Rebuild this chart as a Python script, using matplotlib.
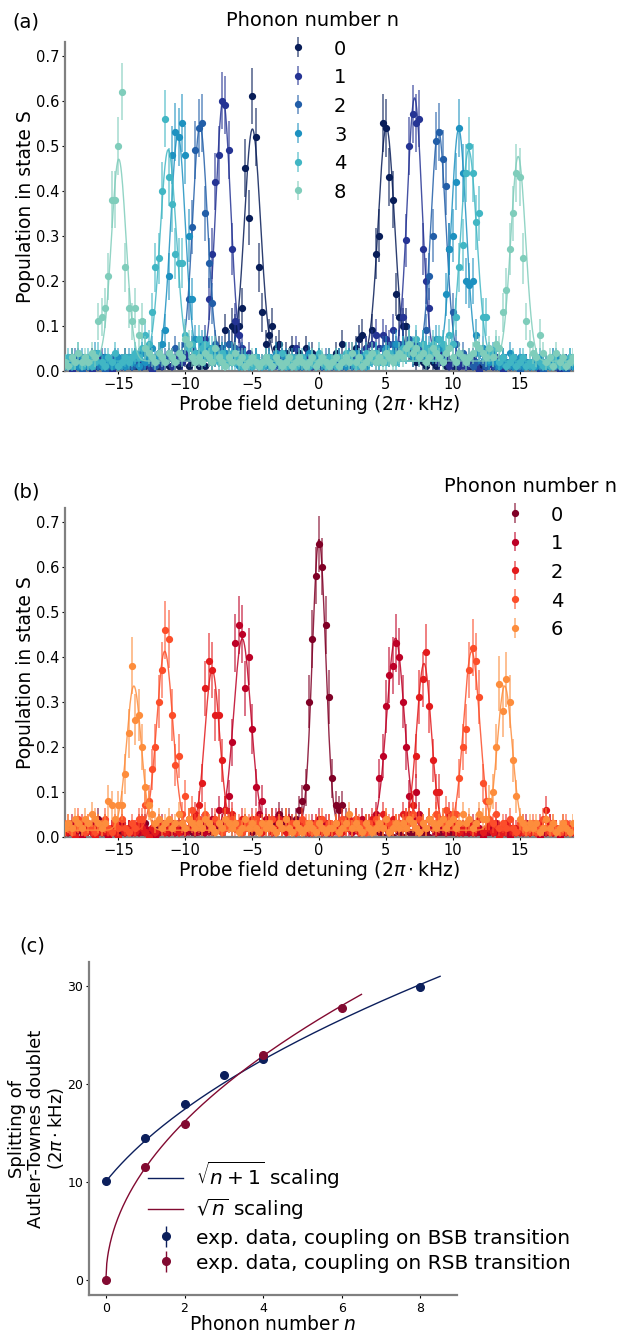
"""Autler-Townes splitting vs phonon number: (a) BSB coupling scans,
(b) RSB coupling scans, (c) extracted splitting with sqrt scaling."""
import numpy as np
import matplotlib
matplotlib.use("Agg")
import matplotlib.pyplot as plt
from matplotlib.colors import to_rgba

plt.rcParams.update({
    "font.family": "DejaVu Sans", "font.size": 10,
    "mathtext.fontset": "dejavusans",
    "axes.spines.top": False, "axes.spines.right": False,
})

# scan grid of the probe detuning (2pi kHz)
DET_START, DET_STOP, DET_STEP = -19.0, 19.0, 0.25
N_SHOTS = 60  # shots per point -> projection-noise error bars

# ---------- panel (a): coupling on BSB, population in S (%) ----------
a_labels = ["0", "1", "2", "3", "4", "8"]
a_colors = ["#081d58", "#253494", "#225ea8", "#1d91c0", "#41b6c4", "#7fcdbb"]
a_n0 = [2, 1, 3, 1, 2, 0, 1, 2, 3, 1, 0, 2, 1, 2, 1, 0, 2, 1, 3, 1,
        2, 1, 0, 2, 1, 3, 1, 2, 0, 1, 2, 1, 3, 2, 1, 2, 3, 1, 2, 4,
        1, 2, 1, 3, 2, 3, 5, 4, 9, 6, 10, 9, 10, 14, 45, 34, 61, 52, 23, 13,
        6, 8, 10, 5, 6, 3, 4, 2, 5, 3, 4, 2, 5, 3, 4, 2, 3, 1, 2, 3,
        2, 4, 3, 6, 2, 3, 4, 5, 7, 8, 5, 4, 9, 26, 30, 55, 54, 43, 38, 17,
        12, 10, 10, 5, 3, 2, 4, 2, 1, 3, 2, 1, 2, 3, 1, 2, 1, 0, 1, 2,
        1, 0, 2, 1, 1, 0, 1, 2, 0, 1, 1, 0, 0, 1, 0, 1, 2, 0, 1, 0,
        1, 0, 1, 2, 1, 0, 1, 2, 1, 0, 2, 1, 1]
a_n1 = [1, 2, 0, 1, 3, 1, 2, 1, 0, 2, 1, 3, 2, 1, 0, 1, 2, 1, 1, 2,
        1, 3, 2, 1, 2, 1, 0, 2, 3, 1, 2, 3, 1, 2, 3, 2, 4, 3, 5, 4,
        3, 5, 7, 16, 26, 42, 48, 60, 59, 49, 27, 11, 8, 5, 3, 4, 2, 3, 1, 2,
        2, 3, 1, 2, 4, 2, 1, 3, 2, 5, 2, 1, 3, 2, 1, 2, 3, 1, 2, 1,
        2, 1, 3, 2, 1, 4, 2, 3, 4, 2, 5, 3, 6, 8, 5, 8, 7, 6, 9, 4,
        6, 12, 29, 50, 57, 55, 56, 27, 20, 14, 5, 3, 2, 4, 3, 1, 2, 3, 1, 2,
        1, 2, 3, 1, 0, 2, 1, 2, 1, 3, 1, 0, 2, 1, 2, 1, 0, 1, 2, 1,
        2, 1, 0, 1, 2, 1, 2, 1, 0, 1, 2, 1, 2]
a_n2 = [2, 1, 2, 3, 1, 0, 2, 1, 3, 2, 1, 2, 0, 1, 2, 3, 1, 2, 1, 2,
        1, 2, 3, 1, 2, 2, 3, 1, 4, 2, 3, 4, 3, 5, 4, 4, 6, 16, 32, 49,
        54, 55, 35, 24, 15, 6, 3, 5, 4, 6, 3, 5, 2, 4, 3, 2, 1, 3, 2, 1,
        2, 3, 1, 2, 1, 3, 2, 1, 2, 3, 1, 2, 1, 2, 3, 1, 2, 1, 3, 2,
        1, 2, 3, 1, 2, 2, 1, 3, 2, 1, 2, 3, 4, 2, 3, 5, 4, 3, 6, 5,
        4, 6, 5, 7, 4, 6, 3, 5, 9, 21, 30, 51, 53, 47, 41, 27, 13, 6, 3, 4,
        2, 3, 1, 2, 4, 2, 1, 3, 2, 1, 2, 3, 1, 2, 1, 2, 0, 1, 2, 1,
        1, 2, 1, 0, 2, 1, 3, 1, 2, 1, 0, 2, 1]
a_n3 = [1, 2, 3, 2, 1, 3, 2, 1, 2, 4, 2, 1, 3, 2, 1, 2, 3, 2, 1, 3,
        2, 3, 1, 4, 2, 3, 5, 3, 4, 6, 9, 21, 48, 53, 52, 55, 48, 30, 16, 7,
        4, 6, 3, 5, 2, 4, 3, 2, 4, 3, 2, 3, 1, 2, 3, 1, 2, 3, 1, 2,
        3, 1, 2, 4, 2, 1, 3, 2, 1, 2, 3, 1, 2, 4, 2, 1, 3, 2, 1, 2,
        2, 3, 1, 2, 1, 3, 2, 4, 2, 3, 1, 2, 3, 4, 2, 3, 5, 3, 4, 6,
        3, 5, 4, 6, 3, 5, 4, 6, 3, 5, 4, 7, 5, 5, 17, 27, 30, 42, 54, 44,
        20, 19, 20, 8, 4, 5, 3, 2, 4, 2, 1, 3, 2, 4, 1, 2, 3, 1, 2, 1,
        2, 1, 3, 2, 1, 2, 1, 3, 2, 1, 2, 3, 1]
a_n4 = [2, 3, 1, 2, 4, 1, 2, 3, 1, 2, 4, 2, 1, 3, 2, 4, 1, 2, 3, 2,
        3, 4, 3, 5, 8, 6, 13, 23, 25, 40, 56, 43, 37, 26, 24, 24, 8, 5, 6, 4,
        7, 5, 6, 4, 5, 3, 2, 4, 3, 2, 4, 2, 3, 1, 3, 2, 1, 3, 2, 1,
        2, 3, 1, 3, 2, 4, 1, 2, 3, 1, 2, 3, 2, 1, 3, 2, 4, 2, 1, 3,
        2, 1, 3, 2, 4, 3, 2, 1, 3, 2, 4, 2, 3, 4, 2, 3, 2, 4, 3, 2,
        3, 5, 4, 6, 5, 7, 4, 6, 5, 4, 6, 5, 7, 6, 5, 8, 6, 12, 23, 28,
        44, 50, 44, 33, 35, 12, 12, 4, 3, 5, 2, 3, 1, 2, 3, 1, 2, 3, 1, 2,
        1, 3, 2, 1, 2, 1, 3, 2, 1, 2, 1, 3, 2]
a_n8 = [2, 1, 3, 2, 4, 2, 3, 2, 4, 3, 11, 12, 14, 21, 38, 38, 50, 62, 23, 14,
        11, 14, 8, 11, 5, 4, 3, 2, 4, 3, 2, 4, 3, 2, 4, 3, 7, 6, 3, 2,
        3, 2, 4, 3, 2, 5, 3, 2, 1, 3, 2, 4, 2, 3, 1, 2, 3, 2, 1, 2,
        3, 2, 1, 3, 2, 1, 2, 3, 1, 2, 3, 2, 1, 2, 3, 1, 2, 3, 2, 1,
        2, 3, 1, 2, 3, 2, 4, 2, 3, 1, 2, 3, 4, 2, 3, 2, 4, 3, 2, 3,
        4, 3, 5, 6, 4, 5, 3, 4, 2, 3, 5, 4, 3, 2, 4, 5, 3, 2, 4, 3,
        2, 3, 4, 6, 5, 4, 3, 5, 3, 6, 5, 13, 18, 27, 35, 44, 43, 25, 11, 6,
        4, 3, 8, 4, 2, 3, 1, 4, 2, 3, 1, 2, 3]
# double-Gaussian fit parameters (left/right centre, amplitude, width)
a_left_c = [-4.98, -7.17, -8.90, -10.55, -11.28, -14.98]
a_right_c = [5.04, 7.15, 8.93, 10.45, 11.20, 14.90]
a_left_amp = [0.515, 0.580, 0.522, 0.502, 0.469, 0.448]
a_right_amp = [0.519, 0.584, 0.514, 0.515, 0.468, 0.454]
a_sigma = [0.60, 0.55, 0.55, 0.55, 0.60, 0.55]
a_base = 0.022

# ---------- panel (b): coupling on RSB, population in S (%) ----------
b_labels = ["0", "1", "2", "4", "6"]
b_colors = ["#800026", "#bd0026", "#e31a1c", "#fc4e2a", "#fd8d3c"]
b_n0 = [1, 2, 0, 1, 2, 1, 0, 2, 1, 0, 4, 1, 2, 0, 1, 2, 1, 0, 1, 2,
        1, 0, 2, 1, 3, 1, 0, 2, 1, 2, 1, 0, 2, 1, 3, 2, 1, 2, 1, 0,
        2, 1, 3, 2, 1, 2, 3, 1, 2, 4, 2, 3, 2, 1, 3, 2, 1, 2, 3, 2,
        3, 2, 4, 3, 5, 4, 3, 4, 3, 4, 6, 8, 11, 30, 44, 58, 65, 60, 47, 31,
        13, 7, 6, 7, 4, 3, 2, 4, 2, 1, 3, 2, 1, 2, 1, 0, 2, 1, 0, 2,
        1, 0, 2, 1, 0, 1, 2, 0, 1, 0, 2, 1, 0, 1, 2, 1, 0, 1, 0, 2,
        1, 0, 1, 2, 0, 1, 0, 1, 2, 1, 0, 1, 0, 2, 1, 0, 1, 2, 1, 0,
        1, 2, 0, 1, 0, 1, 2, 1, 0, 1, 2, 0, 1]
b_n1 = [2, 1, 3, 1, 2, 0, 1, 2, 1, 3, 1, 2, 1, 0, 2, 1, 2, 3, 1, 2,
        1, 2, 1, 3, 2, 1, 2, 0, 1, 3, 2, 1, 2, 1, 3, 2, 1, 2, 3, 1,
        2, 3, 1, 2, 4, 3, 6, 3, 6, 9, 21, 43, 47, 45, 33, 40, 24, 11, 5, 8,
        4, 3, 2, 4, 3, 2, 4, 3, 2, 1, 2, 3, 2, 1, 3, 2, 4, 2, 3, 1,
        2, 3, 1, 2, 3, 2, 1, 3, 2, 4, 2, 3, 3, 5, 13, 18, 29, 36, 38, 43,
        40, 30, 20, 9, 4, 10, 5, 3, 2, 4, 2, 1, 3, 2, 1, 2, 3, 1, 2, 1,
        2, 1, 3, 1, 2, 0, 1, 2, 1, 3, 1, 2, 1, 0, 2, 1, 2, 1, 3, 1,
        2, 1, 0, 2, 1, 3, 1, 2, 0, 1, 2, 1, 1]
b_n2 = [1, 2, 1, 0, 2, 3, 1, 2, 1, 0, 2, 1, 3, 1, 2, 1, 0, 2, 1, 2,
        2, 1, 3, 2, 1, 0, 2, 1, 3, 2, 1, 2, 3, 2, 1, 3, 2, 4, 4, 5,
        7, 12, 33, 39, 37, 27, 27, 17, 6, 4, 5, 3, 2, 4, 3, 2, 4, 3, 2, 1,
        2, 3, 1, 2, 4, 2, 1, 3, 2, 1, 2, 3, 1, 2, 1, 3, 2, 1, 2, 3,
        1, 2, 3, 1, 2, 4, 2, 3, 1, 2, 3, 2, 4, 3, 2, 5, 3, 2, 4, 3,
        3, 5, 4, 5, 7, 18, 31, 35, 41, 29, 17, 10, 10, 4, 3, 5, 2, 3, 1, 2,
        2, 3, 1, 2, 4, 1, 2, 3, 1, 2, 0, 1, 3, 2, 1, 2, 1, 3, 2, 1,
        2, 1, 3, 2, 6, 3, 1, 2, 1, 3, 1, 2, 1]
b_n4 = [2, 3, 1, 2, 4, 2, 1, 3, 2, 1, 3, 2, 4, 2, 1, 3, 2, 4, 2, 1,
        3, 2, 4, 4, 7, 8, 15, 20, 30, 37, 46, 44, 27, 16, 18, 5, 9, 4, 6, 3,
        4, 2, 5, 3, 2, 4, 3, 1, 2, 3, 4, 2, 3, 1, 2, 3, 2, 4, 3, 2,
        3, 2, 4, 1, 3, 2, 4, 2, 3, 1, 2, 4, 3, 2, 1, 3, 2, 4, 2, 3,
        2, 3, 1, 4, 2, 3, 2, 4, 3, 2, 1, 3, 2, 4, 3, 2, 4, 3, 2, 3,
        3, 2, 4, 3, 5, 2, 4, 3, 2, 4, 3, 5, 4, 3, 6, 4, 5, 5, 13, 20,
        24, 37, 42, 39, 31, 12, 8, 4, 3, 5, 2, 3, 2, 4, 2, 1, 3, 2, 1, 2,
        3, 1, 2, 4, 2, 1, 3, 2, 1, 2, 3, 1, 2]
b_n6 = [2, 3, 2, 4, 3, 2, 4, 3, 5, 4, 3, 2, 3, 8, 7, 4, 7, 7, 14, 23,
        38, 26, 27, 20, 11, 7, 5, 3, 4, 2, 3, 4, 2, 3, 5, 3, 2, 4, 3, 2,
        3, 2, 4, 3, 2, 1, 3, 2, 4, 3, 2, 3, 1, 2, 4, 2, 3, 2, 1, 3,
        2, 3, 2, 1, 3, 2, 4, 2, 1, 3, 2, 1, 2, 3, 2, 1, 3, 2, 1, 2,
        2, 3, 1, 2, 3, 5, 2, 3, 2, 1, 3, 2, 1, 2, 3, 2, 4, 1, 2, 3,
        2, 3, 2, 4, 3, 2, 1, 3, 2, 4, 3, 2, 3, 4, 2, 3, 4, 2, 3, 5,
        3, 4, 2, 3, 5, 4, 4, 8, 10, 20, 34, 28, 35, 30, 17, 9, 4, 3, 2, 3,
        2, 3, 1, 2, 4, 2, 3, 1, 2, 3, 2, 1, 3]
b_left_c = [0.0, -5.74, -7.99, -11.54, -13.85]
b_right_c = [0.0, 5.72, 7.85, 11.42, 13.89]
b_left_amp = [0.645, 0.425, 0.355, 0.397, 0.320]
b_right_amp = [0.0, 0.426, 0.370, 0.397, 0.320]
b_sigma = [0.50, 0.65, 0.55, 0.60, 0.55]
b_base = 0.015

# ---------- panel (c): Autler-Townes splitting (2pi kHz) ----------
bsb_n = [0, 1, 2, 3, 4, 8]
bsb_split = [10.1, 14.5, 18.0, 21.0, 22.6, 29.9]
bsb_err = [0.4, 0.4, 0.4, 0.4, 0.4, 0.4]
rsb_n = [0, 1, 2, 4, 6]
rsb_split = [0.0, 11.5, 15.9, 23.0, 27.8]
rsb_err = [0.4, 0.4, 0.4, 0.4, 0.4]
bsb_coef, rsb_coef = 10.07, 11.45
bsb_nmax, rsb_nmax = 8.5, 6.5
c_navy, c_red = "#0c1f5c", "#820a31"


def style_axes(ax, size=10.5):
    for s in ("left", "bottom"):
        ax.spines[s].set_color("#808080")
        ax.spines[s].set_linewidth(1.6)
    ax.tick_params(labelsize=size, length=2, width=0.8, pad=2)


def scan_panel(ax, labels, colors, pops, lc, rc, la, ra, sig, base):
    det = np.arange(DET_START, DET_STOP + DET_STEP / 2, DET_STEP)
    xf = np.linspace(DET_START, DET_STOP, 1500)
    for k, (lab, col, pop) in enumerate(zip(labels, colors, pops)):
        p = np.array(pop) / 100.0
        err = np.maximum(np.sqrt(p * (1 - p) / N_SHOTS), 0.012)
        ax.errorbar(det, p, yerr=err, fmt="o", ms=4.2, color=col,
                    ecolor=to_rgba(col, 0.6), elinewidth=1.3, capsize=0,
                    label=lab, zorder=2 + k)
        fit = (base + la[k] * np.exp(-(xf - lc[k]) ** 2 / (2 * sig[k] ** 2))
               + ra[k] * np.exp(-(xf - rc[k]) ** 2 / (2 * sig[k] ** 2)))
        ax.plot(xf, fit, color=col, lw=1.0, alpha=0.85, zorder=2 + k)
    ax.set_xlim(DET_START, DET_STOP)
    ax.set_ylim(0, 0.73)
    ax.set_xticks([-15, -10, -5, 0, 5, 10, 15])
    ax.set_yticks(np.arange(0, 0.71, 0.1))
    ax.set_yticklabels([f"{v:.1f}" for v in np.arange(0, 0.71, 0.1)])
    ax.set_xlabel(r"Probe field detuning (2$\pi\cdot$kHz)", fontsize=13.5,
                  labelpad=1)
    ax.set_ylabel("Population in state S", fontsize=13.5, labelpad=1)
    style_axes(ax)


W, H = 629, 1334
fig = plt.figure(figsize=(W / 100, H / 100), dpi=100)
ax_a = fig.add_axes([65 / W, 1 - 371 / H, 508 / W, 329 / H])
ax_b = fig.add_axes([65 / W, 1 - 837 / H, 508 / W, 329 / H])
ax_c = fig.add_axes([89 / W, 1 - 1295 / H, 368 / W, 333 / H])

scan_panel(ax_a, a_labels, a_colors, [a_n0, a_n1, a_n2, a_n3, a_n4, a_n8],
           a_left_c, a_right_c, a_left_amp, a_right_amp, a_sigma, a_base)
scan_panel(ax_b, b_labels, b_colors, [b_n0, b_n1, b_n2, b_n4, b_n6],
           b_left_c, b_right_c, b_left_amp, b_right_amp, b_sigma, b_base)

leg_kw = dict(frameon=False, fontsize=14, title_fontsize=14, handlelength=1.9,
              handletextpad=0.9, labelspacing=0.48, borderpad=0,
              borderaxespad=0, handleheight=1.0, loc="upper center",
              bbox_transform=fig.transFigure)
ax_a.legend(title="Phonon number n", bbox_to_anchor=(313 / W, 1 - 11 / H),
            **leg_kw)
ax_b.legend(title="Phonon number n", bbox_to_anchor=(530 / W, 1 - 477 / H),
            **leg_kw)

# panel (c)
nb = np.linspace(0, bsb_nmax, 300)
nr = np.linspace(0, rsb_nmax, 300)
l1, = ax_c.plot(nb, bsb_coef * np.sqrt(nb + 1), color=c_navy, lw=1.0)
l2, = ax_c.plot(nr, rsb_coef * np.sqrt(nr), color=c_red, lw=1.0)
e1 = ax_c.errorbar(bsb_n, bsb_split, yerr=bsb_err, fmt="o", ms=5.5,
                   color=c_navy, elinewidth=1.0, capsize=0, zorder=3)
e2 = ax_c.errorbar(rsb_n, rsb_split, yerr=rsb_err, fmt="o", ms=5.5,
                   color=c_red, elinewidth=1.0, capsize=0, zorder=3)
ax_c.set_xlim(-0.43, 8.93)
ax_c.set_ylim(-1.53, 32.5)
ax_c.set_xticks([0, 2, 4, 6, 8])
ax_c.set_yticks([0, 10, 20, 30])
style_axes(ax_c, size=9)
ax_c.tick_params(axis="x", pad=3)
ax_c.set_xlabel(r"Phonon number $n$", fontsize=13.5, labelpad=0)
ax_c.set_ylabel("Splitting of\nAutler-Townes doublet\n" r"(2$\pi\cdot$kHz)",
                fontsize=13, multialignment="center", linespacing=1.08)
ax_c.yaxis.set_label_coords(-0.062, 0.5)
ax_c.legend([l1, l2, e1, e2],
            [r"$\sqrt{n+1}$ scaling", r"$\sqrt{n}$ scaling",
             "exp. data, coupling on BSB transition",
             "exp. data, coupling on RSB transition"],
            loc="upper left", bbox_to_anchor=(148 / W, 1 - 1160 / H),
            bbox_transform=fig.transFigure, frameon=False, fontsize=14.5,
            handlelength=1.75, handletextpad=0.65, labelspacing=0.3,
            borderpad=0, borderaxespad=0)

for lab, (x, y) in zip(["(a)", "(b)", "(c)"],
                       [(12, 22), (12, 492), (19, 946)]):
    fig.text(x / W, 1 - y / H, lab, fontsize=14, va="center", ha="left")

fig.savefig("out.png", dpi=100)
